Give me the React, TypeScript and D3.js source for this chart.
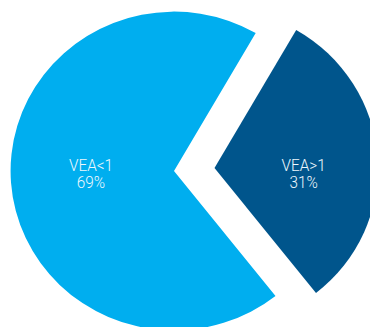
import React from "react";
import * as d3 from "d3";

const categories = ["VEA<1", "VEA>1"];
const values = [69, 31];
const colors = ["#00AEEF", "#00558C"];
const explode = [0, 40];

export default function App() {
  const W = 370, H = 327;
  const cx = 174, cy = 171, r = 161;
  const sx = 1.015, sy = 0.99;
  const start = (141.6 * Math.PI) / 180;
  const pie = d3.pie<number>().sort(null).startAngle(start).endAngle(start + 2 * Math.PI);
  const arcs = pie(values);
  const arc = d3.arc<d3.PieArcDatum<number>>().innerRadius(0).outerRadius(r);
  return (
    <svg width={W} height={H} style={{ position: "absolute", left: 0, top: 0 }}>
      <g transform={`translate(${cx},${cy}) scale(${sx},${sy})`}>
        {arcs.map((a, i) => {
          const mid = (a.startAngle + a.endAngle) / 2;
          const dx = Math.sin(mid) * explode[i];
          const dy = -Math.cos(mid) * explode[i];
          return (
            <path key={i} transform={`translate(${dx},${dy})`} d={arc(a) || ""} fill={colors[i]} />
          );
        })}
      </g>
      {arcs.map((a, i) => {
        const mid = (a.startAngle + a.endAngle) / 2;
        const lx = cx + Math.sin(mid) * (explode[i] + (i === 0 ? 82 : 88)) * sx;
        const ly = cy;
        return (
          <text
            key={i}
            transform={`translate(${lx},${ly}) scale(0.9,1)`}
            textAnchor="middle"
            fill="#eef8fd"
            fontFamily="Roboto, sans-serif"
            fontWeight={300}
            fontSize={17}
          >
            <tspan x={0} y={0}>{categories[i]}</tspan>
            <tspan x={0} y={17.5}>{values[i]}%</tspan>
          </text>
        );
      })}
    </svg>
  );
}
